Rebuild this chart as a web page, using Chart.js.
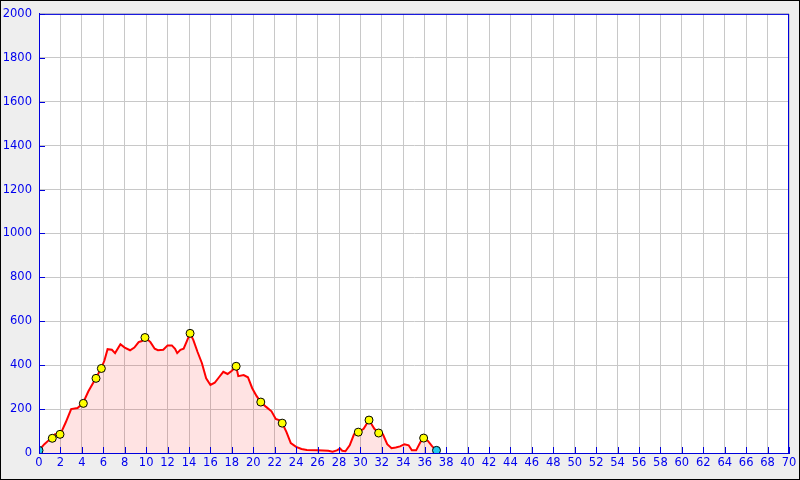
<!DOCTYPE html>
<html>
<head>
<meta charset="utf-8">
<script src="https://cdn.jsdelivr.net/npm/chart.js@4/dist/chart.umd.min.js"></script>
<style>
  body { margin: 0; background: #eeeeee; }
  #wrap { width: 800px; height: 480px; }
</style>
</head>
<body>
<div id="wrap"><canvas id="profile" width="800" height="480"></canvas></div>
<script>
// Profil : distance (km) et altitude (m)
const profileKm = [0, 0.5, 1, 1.5, 2, 2.5, 3, 3.6, 4.1, 4.6, 5.3, 5.8, 6.1, 6.4, 6.8, 7.1, 7.6, 8.0, 8.5, 8.9, 9.3, 9.6, 9.9, 10.4, 10.8, 11.1, 11.6, 12, 12.4, 12.7, 12.9, 13.2, 13.5, 13.8, 14.1, 14.4, 14.8, 15.2, 15.6, 16, 16.4, 16.8, 17.2, 17.6, 18, 18.4, 18.6, 19.1, 19.5, 19.9, 20.3, 20.7, 21.2, 21.7, 22.1, 22.4, 22.7, 23.1, 23.5, 24, 24.5, 25, 26, 27, 27.4, 27.8, 28.1, 28.3, 28.6, 29, 29.4, 29.8, 30.3, 30.8, 31.3, 31.7, 32.1, 32.5, 32.9, 33.3, 33.7, 34.1, 34.5, 34.8, 35.2, 35.6, 35.9, 36.3, 36.7, 37.1];
const profileAlt = [12, 40, 62, 85, 86, 140, 200, 205, 227, 280, 340, 386, 420, 473, 470, 455, 495, 480, 468, 480, 505, 510, 527, 505, 475, 468, 470, 490, 490, 475, 455, 470, 475, 510, 545, 515, 460, 410, 340, 310, 320, 345, 370, 360, 375, 395, 350, 355, 345, 295, 260, 232, 210, 190, 155, 150, 136, 95, 45, 28, 18, 14, 12, 10, 6, 12, 20, 10, 8, 35, 85, 95, 110, 150, 110, 92, 85, 40, 22, 25, 30, 40, 35, 12, 12, 50, 68, 55, 30, 12];

// Points de passage
const waypointKm = [1.24, 1.96, 4.14, 5.32, 5.82, 9.89, 14.1, 18.4, 20.7, 22.7, 29.8, 30.8, 31.7, 35.9];
const waypointAlt = [67, 85, 226, 340, 385, 526, 545, 395, 232, 136, 95, 150, 91, 68];

// Départ et arrivée
const endKm = [0, 37.1];
const endAlt = [12, 12];

const toPoints = (xs, ys) => xs.map((x, i) => ({ x, y: ys[i] }));

// fond gris, zone blanche, cadre bleu et petites graduations
const framePlugin = {
    id: 'frame',
    beforeDraw(chart) {
        const { ctx, chartArea: a } = chart;
        ctx.save();
        ctx.fillStyle = '#eeeeee';
        ctx.fillRect(0, 0, chart.width, chart.height);
        ctx.strokeStyle = '#000';
        ctx.lineWidth = 1;
        ctx.strokeRect(0.5, 0.5, chart.width - 1, chart.height - 1);
        ctx.fillStyle = '#ffffff';
        ctx.fillRect(a.left, a.top, a.right - a.left, a.bottom - a.top);
        ctx.restore();
    },
    afterDatasetsDraw(chart) {
        const { ctx, chartArea: a, scales } = chart;
        ctx.save();
        ctx.strokeStyle = '#0000dd';
        ctx.lineWidth = 1;
        ctx.beginPath();
        scales.x.ticks.forEach(t => {
            const px = Math.round(scales.x.getPixelForValue(t.value)) + 0.5;
            ctx.moveTo(px, a.bottom);
            ctx.lineTo(px, a.bottom - 6);
        });
        scales.y.ticks.forEach(t => {
            const py = Math.round(scales.y.getPixelForValue(t.value)) + 0.5;
            ctx.moveTo(a.left, py);
            ctx.lineTo(a.left + 6, py);
        });
        ctx.stroke();
        ctx.strokeRect(a.left + 0.5, a.top + 0.5, a.right - a.left - 1, a.bottom - a.top);
        ctx.restore();
    }
};

const tickFont = { family: 'DejaVu Sans', size: 11.5 };

const ctx = document.getElementById('profile').getContext('2d');
new Chart(ctx, {
    type: 'scatter',
    data: {
        datasets: [
            {
                label: 'Départ / arrivée',
                data: toPoints(endKm, endAlt),
                pointRadius: 4,
                pointBackgroundColor: '#22ccee',
                pointBorderColor: '#000',
                pointBorderWidth: 1,
                order: 0
            },
            {
                label: 'Points de passage',
                data: toPoints(waypointKm, waypointAlt),
                pointRadius: 4,
                pointBackgroundColor: '#ffff00',
                pointBorderColor: '#000',
                pointBorderWidth: 1,
                order: 1
            },
            {
                label: 'Altitude',
                type: 'line',
                data: toPoints(profileKm, profileAlt),
                borderColor: '#ff0000',
                borderWidth: 2,
                backgroundColor: 'rgba(255, 0, 0, 0.11)',
                fill: 'origin',
                pointRadius: 0,
                tension: 0,
                order: 2
            }
        ]
    },
    options: {
        responsive: false,
        animation: false,
        layout: { padding: { top: 13, right: 11, left: 0, bottom: 0 } },
        plugins: {
            legend: { display: false },
            tooltip: { enabled: false }
        },
        scales: {
            x: {
                type: 'linear',
                min: 0,
                max: 70,
                afterFit: scale => { scale.height = 27; },
                ticks: { stepSize: 2, color: '#0000ee', padding: 3, font: tickFont, callback: v => String(v) },
                grid: { color: '#c8c8c8', drawTicks: false },
                border: { color: '#0000dd', width: 1 }
            },
            y: {
                min: 0,
                max: 2000,
                afterFit: scale => { scale.width = 39; },
                ticks: { stepSize: 200, color: '#0000ee', padding: 7, font: tickFont, callback: v => String(v) },
                grid: { color: '#c8c8c8', drawTicks: false },
                border: { color: '#0000dd', width: 1 }
            }
        }
    },
    plugins: [framePlugin]
});
</script>
</body>
</html>
